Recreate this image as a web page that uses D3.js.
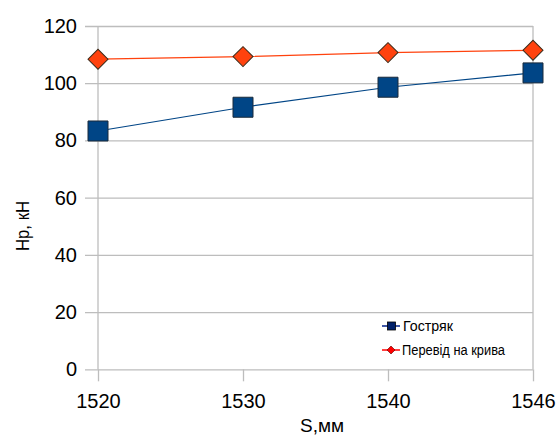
<!DOCTYPE html>
<html><head><meta charset="utf-8">
<script src="https://cdn.jsdelivr.net/npm/d3@7"></script>
<style>body{margin:0;background:#fff}svg{display:block}text{font-family:"Liberation Sans",Arial,sans-serif;fill:#000}</style>
</head><body><svg id="c" width="560" height="437"></svg>
<script>
const categories = ["1520", "1530", "1540", "1546"];
const gostryak = [83.3, 91.6, 98.6, 103.6];
const perevid = [108.4, 109.3, 110.7, 111.5];
const yTicks = [0, 20, 40, 60, 80, 100, 120];
const seriesNames = ["Гостряк", "Перевід на крива"];

const svg = d3.select("#c");
const L = 98, R = 533, T = 26, B = 369.3;
const x = d3.scalePoint().domain(categories).range([L, R]).padding(0);
const y = d3.scaleLinear().domain([0, 120]).range([B, T]);

// Y axis with gridlines
const gy = svg.append("g").attr("transform", "translate(85,0)")
  .call(d3.axisLeft(y).tickValues(yTicks).tickSize(-(R - 85)).tickPadding(8));
gy.select(".domain").remove();
gy.selectAll(".tick line").attr("stroke", "#bdbdbd").attr("stroke-width", 1.3);
gy.selectAll(".tick text").attr("font-size", 20).attr("font-family", "Liberation Sans, Arial, sans-serif");

// X axis
const gx = svg.append("g").attr("transform", `translate(0,${B})`)
  .call(d3.axisBottom(x).tickSize(12).tickPadding(12.5));
gx.select(".domain").remove();
gx.selectAll(".tick line").attr("stroke", "#bdbdbd").attr("stroke-width", 1.3);
gx.selectAll(".tick text").attr("font-size", 20).attr("font-family", "Liberation Sans, Arial, sans-serif");

// left & right vertical borders
[categories[0], categories[categories.length - 1]].forEach(c => {
  svg.append("line").attr("x1", x(c)).attr("x2", x(c)).attr("y1", T).attr("y2", B)
    .attr("stroke", "#bdbdbd").attr("stroke-width", 1.3);
});

const line = d3.line().x((d, i) => x(categories[i])).y(d => y(d));

// series lines
svg.append("path").datum(gostryak).attr("d", line).attr("fill", "none")
  .attr("stroke", "#004586").attr("stroke-width", 1.2);
svg.append("path").datum(perevid).attr("d", line).attr("fill", "none")
  .attr("stroke", "#ff420e").attr("stroke-width", 1.2);

// markers
const sq = d3.symbol().type(d3.symbolSquare).size(400);
const dm = d3.symbol().type(d3.symbolSquare).size(200);
svg.selectAll(".m1").data(gostryak).enter().append("path")
  .attr("d", sq).attr("transform", (d, i) => `translate(${x(categories[i])},${y(d)})`)
  .attr("fill", "#004586").attr("stroke", "#1a2a3a").attr("stroke-width", 1);
svg.selectAll(".m2").data(perevid).enter().append("path")
  .attr("d", dm).attr("transform", (d, i) => `translate(${x(categories[i])},${y(d)}) rotate(45)`)
  .attr("fill", "#ff420e").attr("stroke", "#3a2a1a").attr("stroke-width", 1);

// axis titles
svg.append("text").attr("x", 322).attr("y", 432).attr("text-anchor", "middle")
  .attr("font-size", 19).text("S,мм");
svg.append("text").attr("transform", "translate(29,226) rotate(-90)").attr("text-anchor", "middle")
  .attr("font-size", 19).attr("textLength", 50).attr("lengthAdjust", "spacingAndGlyphs").text("Нр, кН");

// legend
const lg = svg.append("g");
// row 1
lg.append("line").attr("x1", 382).attr("x2", 400).attr("y1", 326).attr("y2", 326).attr("stroke", "#00208a").attr("stroke-width", 1.5);
lg.append("rect").attr("x", 387.5).attr("y", 322).attr("width", 8).attr("height", 8).attr("fill", "#00206a").attr("stroke", "#000").attr("stroke-width", 0.8);
lg.append("text").attr("x", 403).attr("y", 331).attr("font-size", 14).attr("textLength", 50).attr("lengthAdjust", "spacingAndGlyphs").text(seriesNames[0]);
// row 2
lg.append("line").attr("x1", 382).attr("x2", 400).attr("y1", 350).attr("y2", 350).attr("stroke", "#ff0000").attr("stroke-width", 1.5);
lg.append("path").attr("d", d3.symbol().type(d3.symbolSquare).size(32)).attr("transform", "translate(391,350) rotate(45)").attr("fill", "#ff0000").attr("stroke", "#600").attr("stroke-width", 0.6);
lg.append("text").attr("x", 402).attr("y", 355).attr("font-size", 14).attr("textLength", 103).attr("lengthAdjust", "spacingAndGlyphs").text(seriesNames[1]);
</script></body></html>
